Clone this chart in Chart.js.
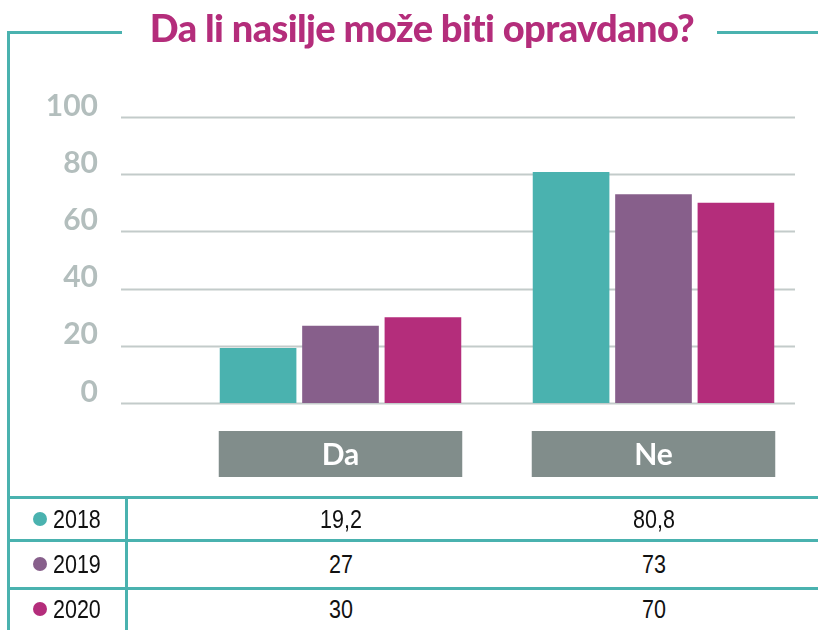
<!DOCTYPE html>
<html lang="sr">
<head>
<meta charset="UTF-8" />
<title>Da li nasilje može biti opravdano?</title>
<script src="https://cdn.jsdelivr.net/npm/chart.js"></script>
<style>
  body { margin: 0; background: #fff; }
  #wrap { position: relative; width: 818px; height: 630px; overflow: hidden; font-family: Lato, sans-serif; }
  #chart { position: absolute; left: 0; top: 0; }
  .line { position: absolute; background: #4ab2af; }
  #title {
    position: absolute; left: 0; top: 5px; width: 844px; text-align: center;
    font: 900 38px Lato, sans-serif; color: #b42d7b; letter-spacing: -0.6px; line-height: 44px;
  }
  .cell {
    position: absolute; font: 25px "Liberation Sans Narrow", "Liberation Sans", sans-serif;
    color: #111; line-height: 30px; white-space: nowrap;
    transform: scaleX(0.86);
  }
  .dot { position: absolute; width: 14px; height: 14px; border-radius: 50%; }
</style>
</head>
<body>
<div id="wrap">
  <!-- canvas is taller than the plot: the y tick padding reserves 104px below the axis -->
  <canvas id="chart" width="818" height="507"></canvas>
  <div id="title">Da li nasilje može biti opravdano?</div>
  <div class="line" style="left:7px;top:31px;width:115px;height:3px"></div>
  <div class="line" style="left:717px;top:31px;width:101px;height:3px"></div>
  <div class="line" style="left:7px;top:31px;width:3px;height:599px"></div>
</div>

<script>
  // Odgovori po godinama (%)
  const categories = ["Da", "Ne"];
  const years = ["2018", "2019", "2020"];
  const values2018 = [19.2, 80.8];
  const values2019 = [27, 73];
  const values2020 = [30, 70];
  const yTicks = [0, 20, 40, 60, 80, 100];

  const seriesValues = [values2018, values2019, values2020];
  const colors = ["#4ab2af", "#875f8b", "#b42d7b"];

  // horizontal gridlines + grey category boxes under the bars
  const decor = {
    id: "decor",
    beforeDatasetsDraw(chart) {
      const ctx = chart.ctx, y = chart.scales.y;
      ctx.save();
      ctx.strokeStyle = "#c3cbca";
      ctx.lineWidth = 2;
      yTicks.forEach(v => {
        const py = Math.round(y.getPixelForValue(v)) + 0.5;
        ctx.beginPath();
        ctx.moveTo(121, py);
        ctx.lineTo(795, py);
        ctx.stroke();
      });
      ctx.restore();
    },
    afterDraw(chart) {
      const ctx = chart.ctx;
      const first = chart.getDatasetMeta(0).data;
      const last = chart.getDatasetMeta(chart.data.datasets.length - 1).data;
      ctx.save();
      categories.forEach((c, i) => {
        const l = first[i].x - first[i].width / 2 - 1;
        const r = last[i].x + last[i].width / 2 + 1;
        ctx.fillStyle = "#818d8b";
        ctx.fillRect(l, 431, r - l, 46);
        ctx.fillStyle = "#fff";
        ctx.font = "bold 30px Lato, sans-serif";
        ctx.textAlign = "center";
        ctx.textBaseline = "middle";
        ctx.fillText(c, (l + r) / 2, 455);
      });
      ctx.restore();
    }
  };

  const chart = new Chart(document.getElementById("chart"), {
    type: "bar",
    data: {
      labels: categories,
      datasets: years.map((yr, i) => ({
        label: yr,
        data: seriesValues[i],
        backgroundColor: colors[i],
        barPercentage: 0.93,
        categoryPercentage: 0.79
      }))
    },
    options: {
      responsive: false,
      animation: false,
      layout: { padding: { top: 117, right: 8, bottom: 104, left: 0 } },
      plugins: { legend: { display: false }, tooltip: { enabled: false } },
      scales: {
        x: { display: false },
        y: {
          min: 0, max: 100,
          afterFit(scale) { scale.width = 184; },
          afterBuildTicks(scale) { scale.ticks = yTicks.map(v => ({ value: v })); },
          border: { display: false },
          grid: { display: false, drawTicks: false },
          ticks: {
            padding: 86,
            labelOffset: -11,
            color: "#b3bebd",
            font: { family: "Lato", size: 30, weight: "bold" }
          }
        }
      }
    },
    plugins: [decor]
  });

  // tabela sa vrednostima ispod grafikona
  const wrap = document.getElementById("wrap");
  const rowLines = [496, 539, 587];
  const rowCenters = [519, 564, 609];
  rowLines.forEach(t => {
    const d = document.createElement("div");
    d.className = "line";
    d.style.cssText = `left:7px;top:${t}px;width:811px;height:3px`;
    wrap.appendChild(d);
  });
  const vl = document.createElement("div");
  vl.className = "line";
  vl.style.cssText = "left:125px;top:496px;width:3px;height:134px";
  wrap.appendChild(vl);

  years.forEach((yr, r) => {
    const dot = document.createElement("div");
    dot.className = "dot";
    dot.style.cssText = `left:33px;top:${rowCenters[r] - 7}px;background:${colors[r]}`;
    wrap.appendChild(dot);

    const lab = document.createElement("div");
    lab.className = "cell";
    lab.style.cssText = `left:53px;top:${rowCenters[r] - 15}px;transform-origin:left center`;
    lab.textContent = yr;
    wrap.appendChild(lab);

    categories.forEach((c, i) => {
      const cx = chart.scales.x.getPixelForValue(i);
      const v = document.createElement("div");
      v.className = "cell";
      v.style.cssText = `left:${cx - 60}px;width:120px;text-align:center;top:${rowCenters[r] - 15}px`;
      v.textContent = String(seriesValues[r][i]).replace(".", ",");
      wrap.appendChild(v);
    });
  });
</script>
</body>
</html>
